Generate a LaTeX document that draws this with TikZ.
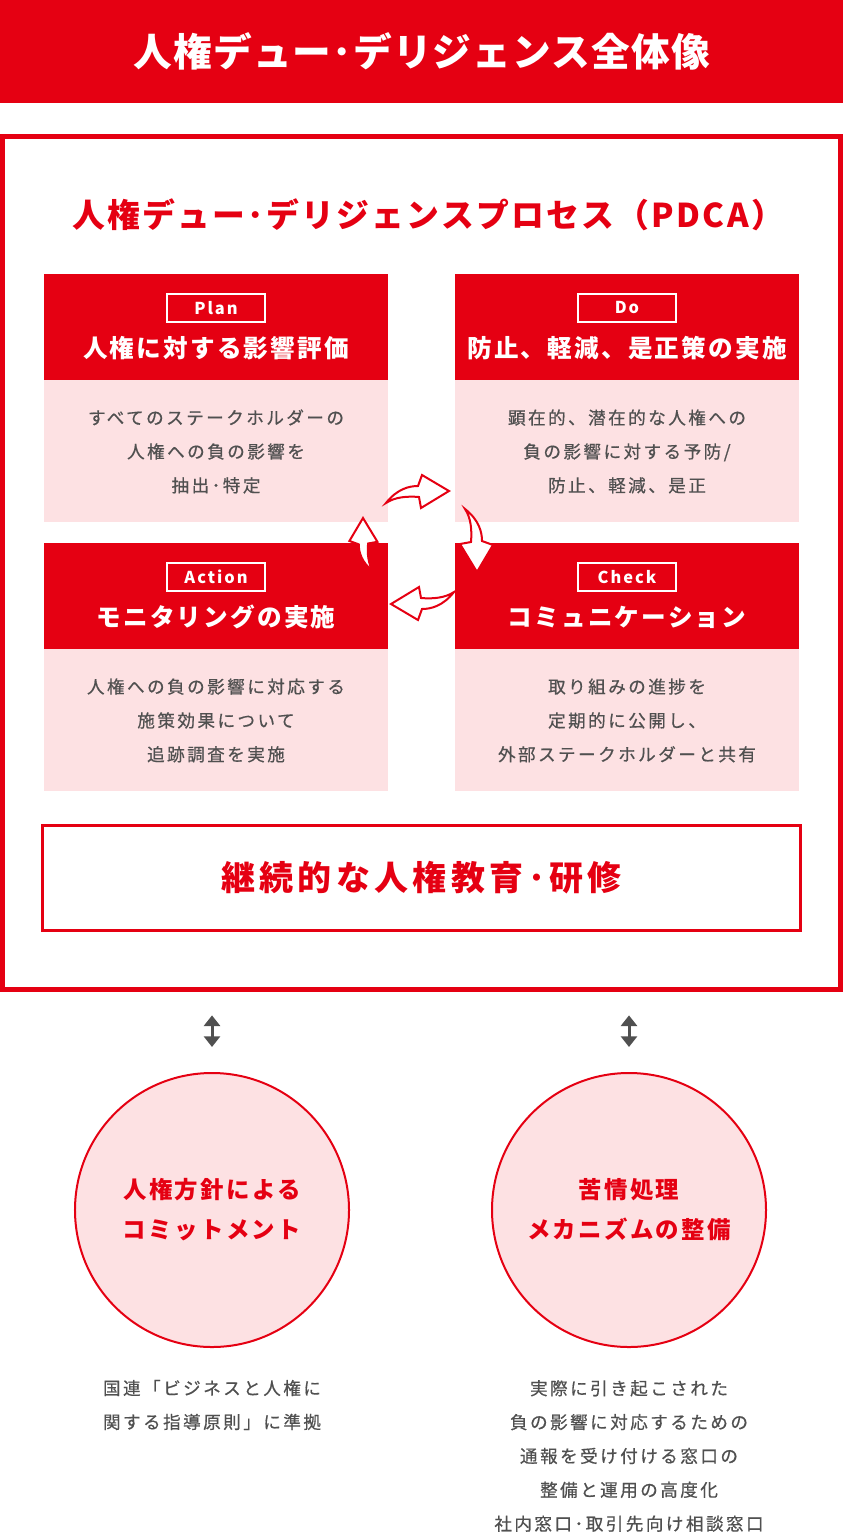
\documentclass[tikz,border=0pt]{standalone}
\usepackage{fontspec}
\usepackage{tikz}
\usetikzlibrary{positioning, calc, arrows.meta}
\newfontfamily\jp{Noto Sans CJK JP}
\newcommand{\pdcafont}[3]{\fontsize{#1}{#2}\jp\addfontfeatures{LetterSpace=#3, FakeBold=0.6}}
\newcommand{\pdcabold}[3]{\fontsize{#1}{#2}\jp\bfseries\addfontfeatures{LetterSpace=#3}}
\definecolor{pdcared}{HTML}{E50012}
\definecolor{pdcapink}{HTML}{FDE1E3}
\definecolor{pdcagray}{HTML}{505050}
\tikzset{
    headbox/.style={fill=pdcared, minimum width=10.32cm, minimum height=3.18cm, inner sep=0pt},
    bodybox/.style={fill=pdcapink, minimum width=10.32cm, minimum height=4.26cm, inner sep=0pt, align=center, text=pdcagray, font=\pdcafont{15pt}{28.9pt}{14}},
    tagbox/.style={draw=white, line width=0.06cm, minimum width=2.94cm, minimum height=0.84cm, inner sep=0pt, text=white, font=\pdcabold{14pt}{16pt}{12}},
    headtext/.style={text=white, inner sep=0pt, font=\pdcabold{21pt}{25pt}{9}},
    goalcircle/.style={circle, draw=pdcared, fill=pdcapink, line width=0.06cm, minimum size=8.22cm, inner sep=0pt, align=center, text=pdcared, font=\pdcabold{20pt}{34pt}{10}},
    note/.style={align=center, text=pdcagray, inner sep=0pt, font=\pdcafont{15pt}{28.9pt}{14}},
    updown/.style={draw=pdcagray, line width=0.09cm, {Triangle[width=0.48cm, length=0.32cm]}-{Triangle[width=0.48cm, length=0.32cm]}},
    cyclearrow/.pic={
        \draw[draw=pdcared, fill=white, line width=0.06cm, line join=miter]
            (-63,12) .. controls (-52,-2) and (-40,-5) .. (-31,-5) -- (-27,-16) -- (0,0)
            -- (-28,17) -- (-30,6) .. controls (-42,5) and (-54,6) .. (-63,12) -- cycle;
    },
}
\begin{document}
\begin{tikzpicture}[x=0.03cm, y=-0.03cm]
    \useasboundingbox (0,0) rectangle (843,1537);
    % title band
    \node[fill=pdcared, minimum width=25.29cm, minimum height=3.09cm, inner sep=0pt, anchor=north west] (band) at (0,0) {};
    \node[text=white, font=\pdcabold{33pt}{36pt}{3}] (title) at (band.center) {人権デュー･デリジェンス全体像};
    % outer frame
    \node[draw=pdcared, line width=0.15cm, minimum width=25.14cm, minimum height=25.575cm, inner sep=0pt] (frame) at (421.5,563.25) {};
    \node[text=pdcared, font=\pdcabold{28pt}{30pt}{7}] (subtitle) at (428,215) {人権デュー･デリジェンスプロセス（PDCA）};
    % PDCA boxes
    \node[headbox] (planhead) at (216,327) {};
    \node[bodybox, below=0pt of planhead] (planbody) {すべてのステークホルダーの\\人権への負の影響を\\抽出･特定};
    \node[tagbox] (plantag) at ($(planhead)+(0,-19)$) {Plan};
    \node[headtext] (plantitle) at ($(planhead)+(0,21)$) {人権に対する影響評価};

    \node[headbox] (dohead) at (627,327) {};
    \node[bodybox, below=0pt of dohead] (dobody) {顕在的、潜在的な人権への\\負の影響に対する予防/\\防止、軽減、是正};
    \node[tagbox] (dotag) at ($(dohead)+(0,-19)$) {Do};
    \node[headtext] (dotitle) at ($(dohead)+(0,21)$) {防止、軽減、是正策の実施};

    \node[headbox] (acthead) at (216,596) {};
    \node[bodybox, below=0pt of acthead] (actbody) {人権への負の影響に対応する\\施策効果について\\追跡調査を実施};
    \node[tagbox] (acttag) at ($(acthead)+(0,-19)$) {Action};
    \node[headtext] (acttitle) at ($(acthead)+(0,21)$) {モニタリングの実施};

    \node[headbox] (checkhead) at (627,596) {};
    \node[bodybox, below=0pt of checkhead] (checkbody) {取り組みの進捗を\\定期的に公開し、\\外部ステークホルダーと共有};
    \node[tagbox] (checktag) at ($(checkhead)+(0,-19)$) {Check};
    \node[headtext] (checktitle) at ($(checkhead)+(0,21)$) {コミュニケーション};
    % cycle arrows
    \pic at (449,491) {cyclearrow};
    \pic[rotate=-90] at (477,572) {cyclearrow};
    \pic[rotate=180] at (391,604) {cyclearrow};
    \pic[rotate=90, scale=0.85] at (363,518) {cyclearrow};
    % education
    \node[draw=pdcared, line width=0.09cm, minimum width=22.71cm, minimum height=3.15cm, inner sep=0pt, text=pdcared, font=\pdcabold{29pt}{32pt}{13}] (edu) at (421.5,878) {継続的な人権教育･研修};
    % commitment and grievance
    \node[goalcircle] (commit) at (212,1210) {人権方針による\\コミットメント};
    \node[goalcircle] (grievance) at (629,1210) {苦情処理\\メカニズムの整備};
    \draw[updown, shorten <=0.7cm, shorten >=0.75cm] (commit.north |- frame.south) -- (commit.north);
    \draw[updown, shorten <=0.7cm, shorten >=0.75cm] (grievance.north |- frame.south) -- (grievance.north);
    \node[note] (commitnote) at (212,1405) {国連「ビジネスと人権に\\関する指導原則」に準拠};
    \node[note] (grievancenote) at (629,1456) {実際に引き起こされた\\負の影響に対応するための\\通報を受け付ける窓口の\\整備と運用の高度化\\社内窓口･取引先向け相談窓口};
\end{tikzpicture}
\end{document}
